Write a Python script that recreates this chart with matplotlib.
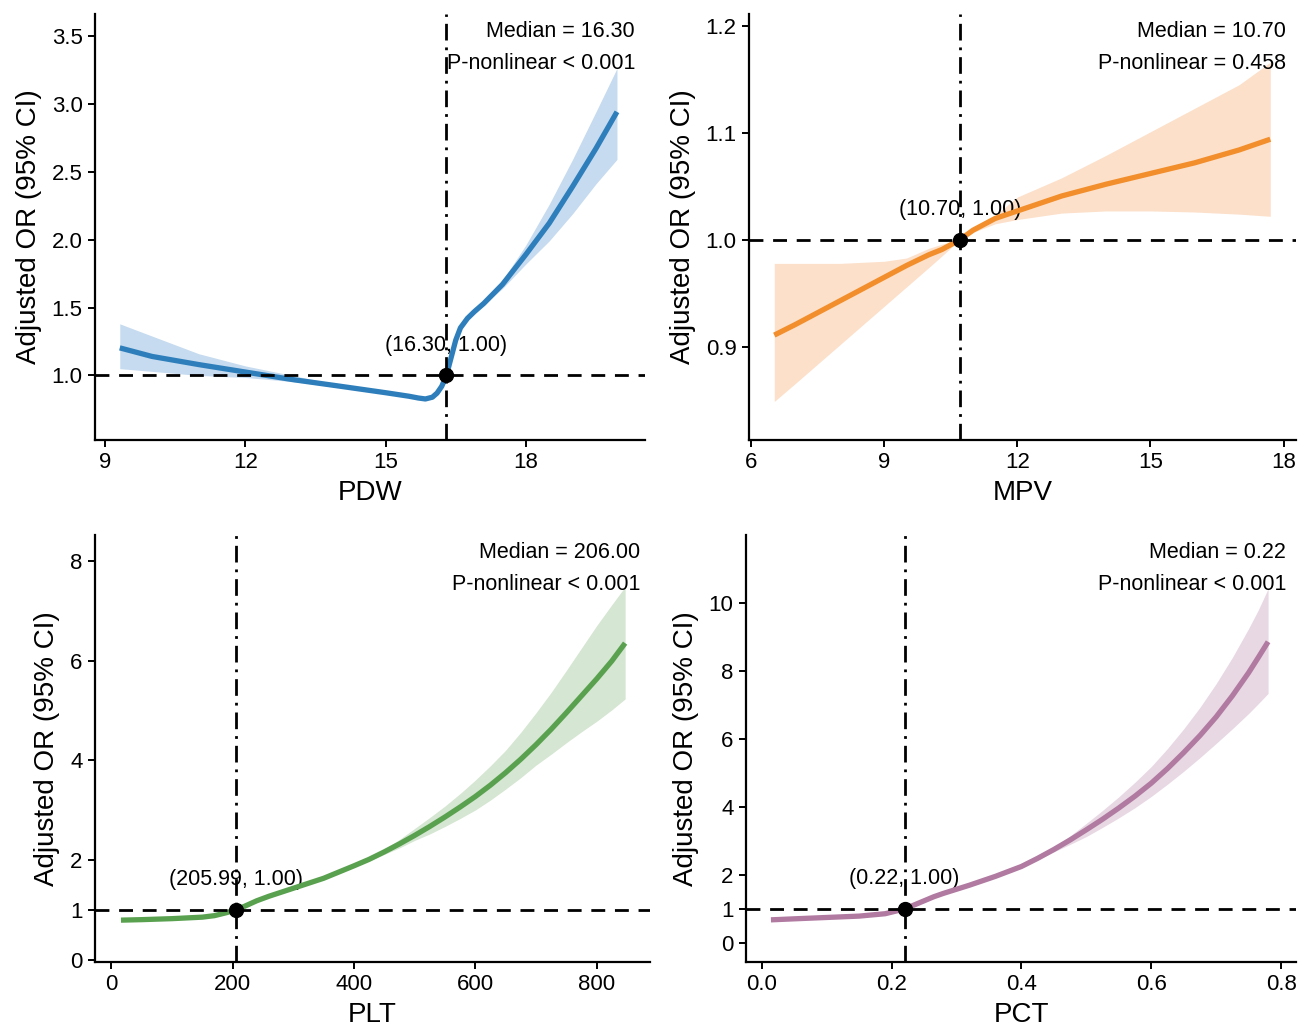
import matplotlib
matplotlib.use("Agg")
import matplotlib.pyplot as plt

plt.rcParams['font.family'] = ['Liberation Sans', 'DejaVu Sans']

# ---- PDW ----
pdw_x  = [9.31, 10, 11, 12, 13, 14, 15, 15.5, 15.7, 15.85, 16.0, 16.1, 16.2, 16.3, 16.4, 16.5, 16.6, 16.75, 16.9, 17.1, 17.5, 18.0, 18.5, 19.0, 19.5, 19.95]
pdw_or = [1.203, 1.14, 1.08, 1.025, 0.97, 0.922, 0.873, 0.847, 0.834, 0.827, 0.84, 0.87, 0.92, 1.0, 1.13, 1.26, 1.35, 1.42, 1.47, 1.53, 1.67, 1.89, 2.12, 2.39, 2.67, 2.94]
pdw_hi = [1.38, 1.29, 1.16, 1.07, 1.00, 0.932, 0.876, 0.850, 0.837, 0.830, 0.843, 0.873, 0.922, 1.0, 1.132, 1.263, 1.355, 1.425, 1.478, 1.54, 1.70, 1.96, 2.26, 2.59, 2.94, 3.26]
pdw_lo = [1.05, 1.03, 1.0, 0.985, 0.955, 0.912, 0.870, 0.844, 0.831, 0.824, 0.837, 0.867, 0.918, 1.0, 1.128, 1.257, 1.345, 1.415, 1.462, 1.52, 1.64, 1.82, 1.99, 2.19, 2.41, 2.59]

# ---- MPV ----
mpv_x  = [6.52, 7, 8, 9, 9.5, 10, 10.3, 10.7, 11, 11.5, 12, 13, 14, 15, 16, 17, 17.7]
mpv_or = [0.911, 0.921, 0.943, 0.965, 0.976, 0.986, 0.991, 1.0, 1.009, 1.020, 1.027, 1.041, 1.052, 1.062, 1.072, 1.084, 1.094]
mpv_hi = [0.978, 0.978, 0.978, 0.980, 0.983, 0.992, 0.996, 1.0, 1.011, 1.023, 1.040, 1.058, 1.079, 1.101, 1.123, 1.145, 1.166]
mpv_lo = [0.849, 0.866, 0.902, 0.938, 0.956, 0.974, 0.985, 1.0, 1.007, 1.015, 1.019, 1.025, 1.027, 1.027, 1.026, 1.024, 1.022]

# ---- PLT ----
plt_x  = [16, 50, 100, 150, 170, 190, 206, 220, 240, 260, 280, 300, 350, 400, 425, 450, 475, 500, 525, 550, 575, 600, 625, 650, 675, 700, 725, 750, 775, 800, 825, 847]
plt_or = [0.79, 0.80, 0.82, 0.85, 0.88, 0.94, 1.0, 1.07, 1.18, 1.27, 1.35, 1.43, 1.63, 1.88, 2.01, 2.16, 2.32, 2.49, 2.67, 2.86, 3.06, 3.27, 3.50, 3.75, 4.02, 4.31, 4.62, 4.95, 5.29, 5.63, 5.99, 6.35]
plt_hi = [0.79, 0.80, 0.82, 0.85, 0.88, 0.94, 1.0, 1.07, 1.18, 1.27, 1.35, 1.43, 1.63, 1.90, 2.05, 2.22, 2.41, 2.63, 2.85, 3.08, 3.33, 3.60, 3.89, 4.20, 4.56, 4.95, 5.36, 5.80, 6.25, 6.70, 7.12, 7.48]
plt_lo = [0.79, 0.80, 0.82, 0.85, 0.88, 0.94, 1.0, 1.07, 1.18, 1.27, 1.35, 1.43, 1.63, 1.86, 1.98, 2.11, 2.24, 2.39, 2.52, 2.67, 2.83, 3.00, 3.20, 3.42, 3.65, 3.90, 4.12, 4.35, 4.57, 4.78, 5.01, 5.23]

# ---- PCT ----
pct_x  = [0.014, 0.05, 0.1, 0.15, 0.19, 0.22, 0.235, 0.25, 0.265, 0.28, 0.3, 0.32, 0.36, 0.4, 0.425, 0.45, 0.475, 0.5, 0.525, 0.55, 0.575, 0.6, 0.625, 0.65, 0.675, 0.7, 0.725, 0.75, 0.765, 0.78]
pct_or = [0.68, 0.71, 0.75, 0.79, 0.86, 1.0, 1.12, 1.24, 1.36, 1.46, 1.58, 1.70, 1.96, 2.25, 2.49, 2.75, 3.03, 3.33, 3.64, 3.97, 4.32, 4.70, 5.13, 5.60, 6.10, 6.65, 7.27, 7.95, 8.40, 8.86]
pct_hi = [0.68, 0.71, 0.75, 0.79, 0.86, 1.0, 1.12, 1.24, 1.36, 1.46, 1.58, 1.70, 1.96, 2.27, 2.52, 2.82, 3.15, 3.52, 3.90, 4.30, 4.73, 5.19, 5.72, 6.30, 6.93, 7.63, 8.40, 9.25, 9.80, 10.42]
pct_lo = [0.68, 0.71, 0.75, 0.79, 0.86, 1.0, 1.12, 1.24, 1.36, 1.46, 1.58, 1.70, 1.96, 2.23, 2.45, 2.68, 2.90, 3.13, 3.40, 3.68, 3.98, 4.31, 4.67, 5.05, 5.45, 5.87, 6.30, 6.75, 7.04, 7.34]

names   = ['PDW', 'MPV', 'PLT', 'PCT']
medians = [16.30, 10.70, 206.00, 0.22]
ref_x   = [16.30, 10.70, 205.99, 0.22]
pnl     = ['P-nonlinear < 0.001', 'P-nonlinear = 0.458', 'P-nonlinear < 0.001', 'P-nonlinear < 0.001']
med_fmt = ['16.30', '10.70', '206.00', '0.22']
pt_lab  = ['(16.30, 1.00)', '(10.70, 1.00)', '(205.99, 1.00)', '(0.22, 1.00)']
lines   = ['#2E7EBB', '#F28E2B', '#59A14F', '#B07AA1']
fills   = ['#C6DBEF', '#FCE0CA', '#D5E6D2', '#E8D8E3']

series = [(pdw_x, pdw_or, pdw_lo, pdw_hi), (mpv_x, mpv_or, mpv_lo, mpv_hi),
          (plt_x, plt_or, plt_lo, plt_hi), (pct_x, pct_or, pct_lo, pct_hi)]

xlims  = [(8.78, 20.55), (5.95, 18.28), (-26.8, 888), (-0.0244, 0.823)]
ylims  = [(0.525, 3.66), (0.813, 1.211), (-0.05, 8.52), (-0.56, 12.0)]
xticks = [[9, 12, 15, 18], [6, 9, 12, 15, 18], [0, 200, 400, 600, 800], [0.0, 0.2, 0.4, 0.6, 0.8]]
yticks = [[1.0, 1.5, 2.0, 2.5, 3.0, 3.5], [0.9, 1.0, 1.1, 1.2], [0, 1, 2, 4, 6, 8], [0, 1, 2, 4, 6, 8, 10]]
xfmt   = ['{:.0f}', '{:.0f}', '{:.0f}', '{:.1f}']
yfmt   = ['{:.1f}', '{:.1f}', '{:.0f}', '{:.0f}']

W, H = 1307, 1026
fig = plt.figure(figsize=(W / 100, H / 100), dpi=100)

# pixel boxes: left, right, top, bottom
boxes = [(95, 645, 14, 440), (749, 1296, 14, 440), (95, 650, 535, 962), (746, 1296, 535, 962)]

for i in range(4):
    l, r, t, b = boxes[i]
    ax = fig.add_axes([l / W, 1 - b / H, (r - l) / W, (b - t) / H])
    x, y, lo, hi = series[i]
    ax.fill_between(x, lo, hi, color=fills[i], lw=0, zorder=1)
    ax.plot(x, y, color=lines[i], lw=3.8, solid_capstyle='butt', solid_joinstyle='round', zorder=3)
    ax.axhline(1, color='black', lw=2, ls=(0, (5, 3.5)), zorder=4)
    ax.axvline(medians[i], color='black', lw=2, ls=(0, (6, 2.5, 1, 2.5)), zorder=4)
    ax.plot([ref_x[i]], [1], 'o', color='black', ms=10, zorder=5)
    ax.annotate(pt_lab[i], (ref_x[i], 1), xytext=(0, 30), textcoords='offset pixels',
                ha='center', va='center', fontsize=15.5, zorder=2)
    ax.text(0.982, 0.958, 'Median = ' + med_fmt[i], transform=ax.transAxes,
            ha='right', va='center', fontsize=15.5, zorder=2)
    ax.text(0.982, 0.883, pnl[i], transform=ax.transAxes,
            ha='right', va='center', fontsize=15.5, zorder=2)

    ax.set_xlim(*xlims[i])
    ax.set_ylim(*ylims[i])
    ax.set_xticks(xticks[i])
    ax.set_xticklabels([xfmt[i].format(v) for v in xticks[i]])
    ax.set_yticks(yticks[i])
    ax.set_yticklabels([yfmt[i].format(v) for v in yticks[i]])
    ax.set_xlabel(names[i], fontsize=20, labelpad=5)
    ax.set_ylabel('Adjusted OR (95% CI)', fontsize=20, labelpad=7)
    for s in ['top', 'right']:
        ax.spines[s].set_visible(False)
    for s in ['left', 'bottom']:
        ax.spines[s].set_linewidth(1.6)
    ax.tick_params(width=1.4, length=5, labelsize=16, colors='black', pad=4)

fig.savefig('out.png', dpi=100)
